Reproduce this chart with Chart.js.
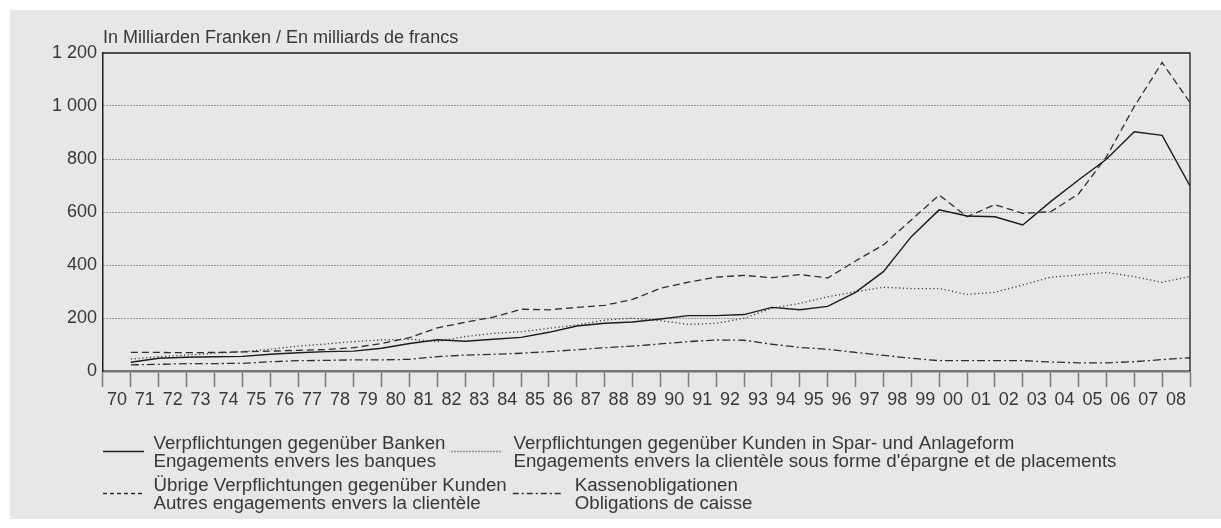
<!DOCTYPE html>
<html>
<head>
<meta charset="utf-8">
<script src="https://cdn.jsdelivr.net/npm/chart.js@4/dist/chart.umd.min.js"></script>
<style>
html,body{margin:0;padding:0;background:#fff;}
#wrap{width:1221px;height:528px;position:relative;}
canvas{display:block;}
</style>
</head>
<body>
<div id="wrap"><canvas id="c" width="1221" height="528"></canvas></div>
<script>
// ---- data (1970 .. 2008, values in billions CHF) ----
const years = ['70','71','72','73','74','75','76','77','78','79',
               '80','81','82','83','84','85','86','87','88','89',
               '90','91','92','93','94','95','96','97','98','99',
               '00','01','02','03','04','05','06','07','08'];
const banken  = [33,48,52,54,55,63,69,73,75,86,
                 104,118,112,120,127,146,170,180,185,196,
                 209,209,213,240,231,244,297,375,507,608,
                 585,582,551,639,721,799,903,889,698];
const spar    = [45,54,60,67,73,82,94,102,111,117,
                 120,111,130,142,148,161,174,192,199,190,
                 176,180,199,237,255,280,299,316,311,311,
                 289,297,325,354,362,372,356,335,356];
const uebrige = [70,70,69,70,72,75,78,81,88,104,
                 126,163,184,203,233,231,240,248,270,312,
                 335,354,361,352,364,351,415,476,570,664,
                 582,628,595,601,668,808,998,1164,1013];
const kasse   = [23,25,28,28,29,35,39,40,42,42,
                 44,54,60,63,67,73,80,88,94,102,
                 111,117,116,101,89,82,70,59,48,39,
                 39,39,39,34,31,31,35,43,50];
const yTicks = [0,200,400,600,800,1000,1200];
const unitLabel = 'In Milliarden Franken / En milliards de francs';
const labelBanken  = ['Verpflichtungen gegenüber Banken', 'Engagements envers les banques'];
const labelSpar    = ['Verpflichtungen gegenüber Kunden in Spar- und Anlageform', "Engagements envers la clientèle sous forme d'épargne et de placements"];
const labelUebrige = ['Übrige Verpflichtungen gegenüber Kunden', 'Autres engagements envers la clientèle'];
const labelKasse   = ['Kassenobligationen', 'Obligations de caisse'];

const FONT = '"Liberation Sans", Arial, Helvetica, sans-serif';
const FS = 18;
const FS_LEG = 18.7;
const TXT = '#383838';

const toPts = arr => arr.map((v, i) => ({x: i + 1, y: v}));

const series = [
  {label: labelBanken,  data: banken,  color: '#1c1c1c', width: 1.4, dash: [],          legendDash: []},
  {label: labelSpar,    data: spar,    color: '#3a3a3a', width: 1.3, dash: [1.2, 2.6],  legendDash: [1, 2]},
  {label: labelUebrige, data: uebrige, color: '#2e2e2e', width: 1.3, dash: [7, 4],      legendDash: [4, 3]},
  {label: labelKasse,   data: kasse,   color: '#2e2e2e', width: 1.3, dash: [8, 3, 2, 3], legendDash: [6, 3, 2, 3]}
];

const bgPlugin = {
  id: 'bg',
  beforeDraw(chart) {
    const c = chart.ctx;
    c.save();
    c.fillStyle = '#e6e7e9';
    c.fillRect(10, 10, 1211, 509);
    c.restore();
  }
};

const framePlugin = {
  id: 'frame',
  afterDraw(chart) {
    const c = chart.ctx, a = chart.chartArea;
    c.save();
    c.strokeStyle = '#1e1e1e';
    c.lineWidth = 1.3;
    c.beginPath();
    c.moveTo(a.left, a.top);
    c.lineTo(a.right, a.top);
    c.lineTo(a.right, a.bottom);
    c.stroke();
    // unit label
    c.font = FS + 'px ' + FONT;
    c.fillStyle = TXT;
    c.textBaseline = 'alphabetic';
    c.fillText(unitLabel, a.left, 43);
    c.restore();
  }
};

const legendPlugin = {
  id: 'customLegend',
  afterDraw(chart) {
    const c = chart.ctx;
    c.save();
    c.font = FS_LEG + 'px ' + FONT;
    c.fillStyle = TXT;
    c.textBaseline = 'alphabetic';
    const rows = [[0, 1], [2, 3]];
    const rowY = [449, 491];
    rows.forEach((row, r) => {
      let x = 103;
      row.forEach((di, j) => {
        const s = series[di];
        const sw = j === 0 ? 41 : 51;
        const ly = rowY[r] + 2.5;
        c.save();
        c.strokeStyle = s.color;
        c.lineWidth = 1.3;
        c.setLineDash(s.legendDash);
        c.beginPath();
        c.moveTo(x, ly);
        c.lineTo(x + sw, ly);
        c.stroke();
        c.restore();
        const tx = x + (j === 0 ? 50.5 : 62);
        c.fillText(s.label[0], tx, rowY[r]);
        c.fillText(s.label[1], tx, rowY[r] + 17.5);
        const w = Math.max(c.measureText(s.label[0]).width, c.measureText(s.label[1]).width);
        x = tx + w + 6;
      });
    });
    c.restore();
  }
};

const fmt = v => String(v).replace(/\B(?=(\d{3})+(?!\d))/g, ' ');

new Chart(document.getElementById('c'), {
  type: 'line',
  data: {
    labels: years,
    datasets: series.map(s => ({
      label: s.label.join(' / '),
      data: toPts(s.data),
      xAxisID: 'xd',
      yAxisID: 'y',
      borderColor: s.color,
      borderWidth: s.width,
      borderDash: s.dash,
      pointRadius: 0,
      tension: 0,
      fill: false
    }))
  },
  options: {
    responsive: false,
    animation: false,
    devicePixelRatio: 1,
    layout: {padding: {left: 0, right: 31, top: 53, bottom: 0}},
    plugins: {legend: {display: false}, title: {display: false}, tooltip: {enabled: false}},
    scales: {
      x: {
        type: 'category',
        position: 'bottom',
        offset: true,
        grid: {offset: true, drawOnChartArea: false, drawTicks: true, tickLength: 16,
               tickColor: '#7a7a7a', tickWidth: 1.5, color: '#7a7a7a'},
        border: {display: true, color: '#777777', width: 2.5},
        ticks: {autoSkip: false, maxRotation: 0, minRotation: 0, padding: 2,
                color: TXT, font: {family: FONT, size: FS}},
        afterFit(scale) { scale.height = 157; }
      },
      xd: {
        type: 'linear',
        position: 'bottom',
        display: false,
        min: 0,
        max: years.length
      },
      y: {
        type: 'linear',
        min: yTicks[0],
        max: yTicks[yTicks.length - 1],
        afterBuildTicks(scale) { scale.ticks = yTicks.map(v => ({value: v})); },
        grid: {
          drawTicks: false,
          lineWidth: 1,
          color: ctx => (ctx.tick && (ctx.tick.value === 0 || ctx.tick.value === 1200)) ? 'rgba(0,0,0,0)' : '#4a4a4a'
        },
        border: {display: true, color: '#1e1e1e', width: 1.5, dash: [1, 2]},
        ticks: {padding: 6, color: TXT, font: {family: FONT, size: FS}, callback: v => fmt(v)},
        afterFit(scale) { scale.width = 103; }
      }
    }
  },
  plugins: [bgPlugin, framePlugin, legendPlugin]
});
</script>
</body>
</html>
